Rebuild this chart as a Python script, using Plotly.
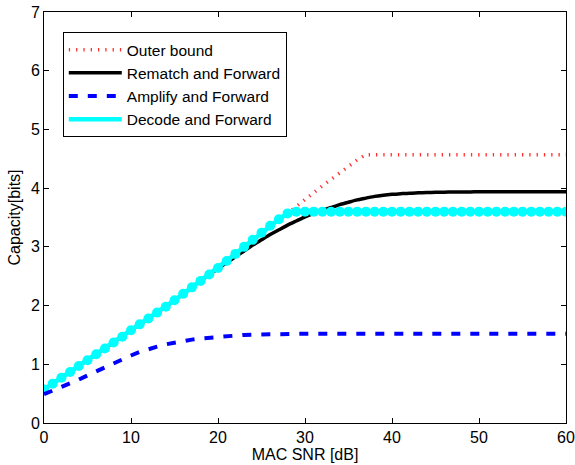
import plotly.graph_objects as go

snr_db = list(range(0, 61))

decode_forward = [0.57, 0.67, 0.77, 0.87, 0.97, 1.07, 1.17, 1.27, 1.37, 1.47,
                  1.58, 1.68, 1.78, 1.88, 1.98, 2.09, 2.20, 2.31, 2.42, 2.53,
                  2.64, 2.76, 2.88, 3.00, 3.12, 3.24, 3.36, 3.47, 3.57] + [3.60] * 32

outer_bound = decode_forward[:29] + [3.69, 3.81, 3.93, 4.04, 4.15, 4.26, 4.37, 4.48] + [4.57] * 24

rematch_forward = decode_forward[:20] + [
    2.63, 2.73, 2.83, 2.93, 3.03, 3.12, 3.21, 3.29, 3.37, 3.44,
    3.51, 3.57, 3.62, 3.67, 3.72, 3.76, 3.80, 3.83, 3.86, 3.88,
    3.895, 3.905, 3.915, 3.92, 3.925, 3.93, 3.932, 3.934, 3.935, 3.936,
    3.937, 3.938, 3.938, 3.939, 3.939, 3.94, 3.94, 3.94, 3.94, 3.94, 3.94]

amplify_forward = [0.49, 0.55, 0.61, 0.67, 0.74, 0.81, 0.88, 0.95, 1.02, 1.09,
                   1.15, 1.21, 1.26, 1.30, 1.34, 1.37, 1.40, 1.42, 1.44, 1.455,
                   1.47, 1.48, 1.49, 1.50, 1.505, 1.51, 1.513, 1.515, 1.517, 1.518] + [1.52] * 31

x_ticks = [0, 10, 20, 30, 40, 50, 60]
y_ticks = [0, 1, 2, 3, 4, 5, 6, 7]

FONT = "Liberation Sans, Arial, Helvetica, sans-serif"

fig = go.Figure()

fig.add_trace(go.Scatter(
    x=snr_db, y=outer_bound, mode="lines", name="Outer bound",
    line=dict(color="#ff3030", width=3.5, dash="1.3px,6px"), legendrank=1))

fig.add_trace(go.Scatter(
    x=snr_db, y=rematch_forward, mode="lines", name="Rematch and Forward",
    line=dict(color="black", width=3.5, shape="spline", smoothing=0.6), legendrank=2))

fig.add_trace(go.Scatter(
    x=snr_db, y=decode_forward, mode="lines", name="Decode and Forward",
    line=dict(color="cyan", width=4.5), legendrank=4))

fig.add_trace(go.Scatter(
    x=snr_db, y=decode_forward, mode="markers", showlegend=False,
    marker=dict(color="cyan", size=10, line=dict(width=0))))

fig.add_trace(go.Scatter(
    x=snr_db, y=amplify_forward, mode="lines", name="Amplify and Forward",
    line=dict(color="blue", width=4, dash="9px,10px"), legendrank=3))

axis_common = dict(
    showline=True, linecolor="black", linewidth=1, mirror="ticks",
    ticks="inside", ticklen=5, tickcolor="black", showgrid=False, zeroline=False,
    automargin=False, ticklabeloverflow="allow",
    tickfont=dict(family=FONT, size=16, color="black"),
)

fig.update_xaxes(range=[0, 60], tickvals=x_ticks,
                 title=dict(text="MAC SNR [dB]", font=dict(family=FONT, size=16, color="black"), standoff=0),
                 **axis_common)
fig.update_yaxes(range=[0, 7], tickvals=y_ticks,
                 title=dict(text="Capacity[bits]", font=dict(family=FONT, size=16, color="black"), standoff=6),
                 **axis_common)

fig.update_layout(
    width=575, height=465,
    margin=dict(l=44, r=9, t=12, b=42),
    paper_bgcolor="white", plot_bgcolor="white",
    font=dict(family=FONT, size=16, color="black"),
    showlegend=True,
    legend=dict(x=0.036, y=0.951, xanchor="left", yanchor="top",
                bgcolor="white", bordercolor="black", borderwidth=1,
                font=dict(family=FONT, size=15.5, color="black"),
                traceorder="normal", itemwidth=53, tracegroupgap=0),
)

fig.write_html("out.html", config={"displayModeBar": False},
               post_script="document.body.style.margin='0px';")
